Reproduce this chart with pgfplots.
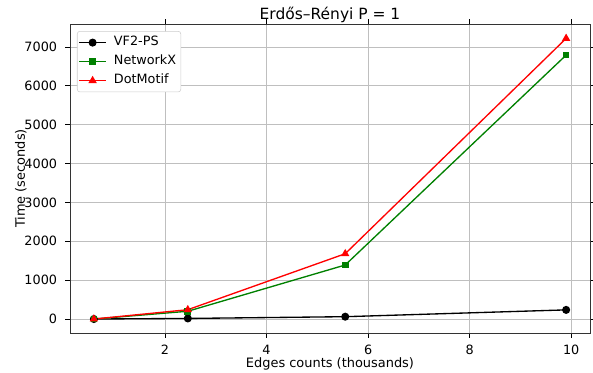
\documentclass[border=0pt]{standalone}
\usepackage{pgfplots}
\pgfplotsset{compat=1.18}
\usepackage{fontspec}
\setmainfont{DejaVu Sans}
\definecolor{mplgreen}{rgb}{0,0.5,0}
\begin{document}
\begin{tikzpicture}
\begin{axis}[
  name=main,
  scale only axis,
  width=390pt, height=231.75pt,
  xmin=0.13, xmax=10.37,
  ymin=-360, ymax=7590,
  xtick={2,4,6,8,10},
  ytick={0,1000,2000,3000,4000,5000,6000,7000},
  /pgf/number format/assume math mode=true,
  scaled y ticks=false,
  yticklabel style={/pgf/number format/1000 sep={}},
  tick label style={font=\fontsize{9.6}{11}\selectfont, inner sep=0pt},
  xticklabel style={anchor=base, yshift=-12.75pt},
  yticklabel style={anchor=east, xshift=-6pt},
  xlabel style={font=\fontsize{9.7}{12}\selectfont, at={(axis description cs:0.5,0)}, anchor=base, yshift=-25.5pt, inner sep=0pt},
  ylabel style={font=\fontsize{9.7}{12}\selectfont, at={([xshift=-33.75pt]axis description cs:0,0.5)}, anchor=base, inner sep=0pt},
  every axis title shift=0pt,
  title style={font=\fontsize{11.6}{14}\selectfont, at={([yshift=3.6pt]axis description cs:0.5,1)}, anchor=base, inner sep=0pt},
  title={Erdős–Rényi P = 1},
  xlabel={Edges counts (thousands)},
  ylabel={Time (seconds)},
  grid=major,
  major grid style={black!25, line width=0.6pt},
  tick align=outside,
  tick style={black, line width=0.6pt},
  major tick length=3.5pt,
  axis line style={black!80, line width=0.6pt},
  legend image code/.code={\draw[mark repeat=2,mark phase=2] plot coordinates {(0pt,0pt)(10pt,0pt)(20pt,0pt)};},
  legend style={font=\fontsize{9.6}{11}\selectfont, draw=black!20, rounded corners=2pt,
    at={(axis description cs:0,1)}, anchor=north west, xshift=5.25pt, yshift=-5.25pt,
    row sep=3.25pt, column sep=3pt, inner xsep=1pt, inner ysep=3pt,
    nodes={inner ysep=1pt, inner xsep=2.5pt, text height=7pt, text depth=2pt}},
  legend cell align=left,
]
\addplot[black, line width=1pt, mark=*, mark size=2.5pt] coordinates {(0.6,0) (2.45,15) (5.55,60) (9.9,235)};
\addlegendentry{VF2-PS}
\addplot[mplgreen, line width=1pt, mark=square*, mark size=2pt] coordinates {(0.6,0) (2.45,200) (5.55,1390) (9.9,6790)};
\addlegendentry{NetworkX}
\addplot[red, line width=1pt, mark=triangle*, mark size=2.6pt] coordinates {(0.6,0) (2.45,240) (5.55,1680) (9.9,7220)};
\addlegendentry{DotMotif}
\end{axis}
\pgfresetboundingbox
\path (main.south west) ++(-52.5pt,-29.25pt) rectangle ([xshift=2.25pt,yshift=18pt]main.north east);
\end{tikzpicture}
\end{document}
